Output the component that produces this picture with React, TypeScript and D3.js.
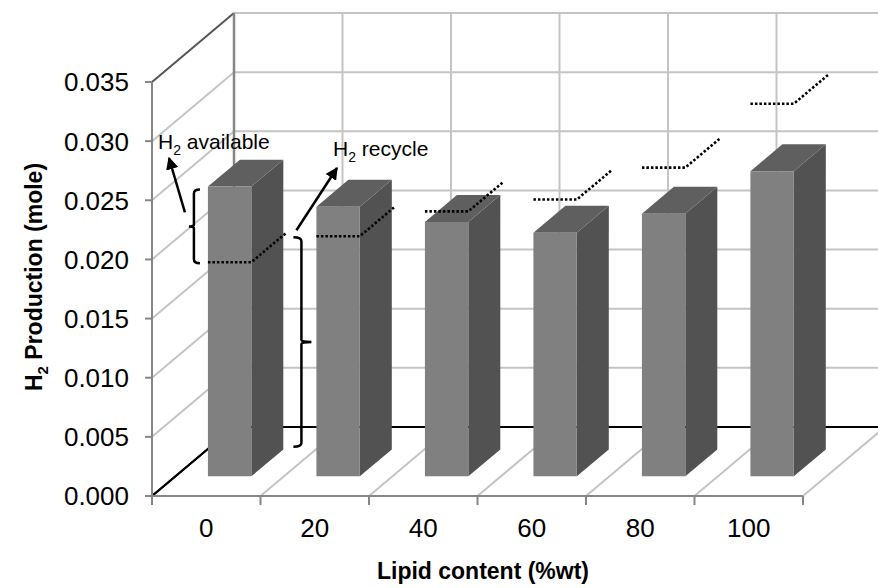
import React from "react";
import * as d3 from "d3";

const categories = ["0", "20", "40", "60", "80", "100"];
const available = [0.0245, 0.0228, 0.0215, 0.0206, 0.0222, 0.0258];
const recycle = [0.0181, 0.0203, 0.0224, 0.0234, 0.0261, 0.0315];
const yTicks = [0, 0.005, 0.01, 0.015, 0.02, 0.025, 0.03, 0.035];
const rightBracketBottom = 0.0025;

const W = 878;
const H = 588;
const DX = 82; // depth offset of back wall
const DY = -69;
const BAR_FRONT = 0.285; // depth fraction of bar front face
const BAR_DEPTH = 0.39;
const BAR_WIDTH = 0.4;
const FONT = "'Liberation Sans', Arial, sans-serif";

export default function App() {
  const x = d3.scaleBand<string>().domain(categories).range([152, 803]).padding(0);
  const y = d3.scaleLinear().domain([0, 0.035]).range([496, 82]);
  const bw = x.bandwidth();
  const P = (px: number, v: number, d: number): [number, number] => [px + DX * d, y(v) + DY * d];
  const pts = (a: [number, number][]) => a.map((p) => p.join(",")).join(" ");
  const boundaries = d3.range(categories.length + 1).map((i) => 152 + i * bw);
  const barLeft = (c: string) => (x(c) as number) + (bw * (1 - BAR_WIDTH)) / 2;

  const grid = "#c4c4c4";
  const axisGray = "#868686";

  return (
    <svg width={W} height={H} style={{ position: "absolute", left: 0, top: 0, background: "#fff" }} fontFamily={FONT}>
      {/* side wall gridlines */}
      {yTicks.map((t, i) => {
        const a = P(152, t, 0);
        const b = P(152, t, 1);
        const col = i === 0 ? "#000" : i === yTicks.length - 1 ? "#555" : grid;
        return <line key={"sw" + i} x1={a[0]} y1={a[1]} x2={b[0]} y2={b[1]} stroke={col} strokeWidth={2} />;
      })}
      {/* back wall horizontal gridlines */}
      {yTicks.map((t, i) => {
        const a = P(152, t, 1);
        const b = P(803, t, 1);
        return (
          <line key={"bw" + i} x1={a[0]} y1={a[1]} x2={b[0]} y2={b[1]} stroke={i === 0 ? "#000" : grid} strokeWidth={2} />
        );
      })}
      {/* back wall verticals */}
      {boundaries.map((bx, i) => {
        const a = P(bx, 0, 1);
        const b = P(bx, 0.035, 1);
        return (
          <line key={"bv" + i} x1={a[0]} y1={a[1]} x2={b[0]} y2={b[1]} stroke={i === 0 ? axisGray : grid} strokeWidth={i === 0 ? 2.5 : 2} />
        );
      })}
      {/* floor diagonals */}
      {boundaries.map((bx, i) => {
        const a = P(bx, 0, 0);
        const b = P(bx, 0, 1);
        return <line key={"fd" + i} x1={a[0]} y1={a[1]} x2={b[0]} y2={b[1]} stroke={i === 0 ? "#000" : grid} strokeWidth={2} />;
      })}
      {/* front vertical axis */}
      <line x1={152} y1={y(0)} x2={152} y2={y(0.035)} stroke={axisGray} strokeWidth={2} />
      {yTicks.map((t, i) => (
        <line key={"yt" + i} x1={145} y1={y(t)} x2={152} y2={y(t)} stroke={axisGray} strokeWidth={2} />
      ))}
      {yTicks.map((t, i) => (
        <text key={"yl" + i} x={129} y={y(t)} dy="0.36em" textAnchor="end" fontSize={26} fill="#000">
          {d3.format(".3f")(t)}
        </text>
      ))}
      {/* front floor edge / x axis */}
      <line x1={152} y1={y(0)} x2={803} y2={y(0)} stroke={axisGray} strokeWidth={2} />
      {boundaries.map((bx, i) => (
        <line key={"xt" + i} x1={bx} y1={y(0)} x2={bx} y2={y(0) + 9} stroke={axisGray} strokeWidth={2} />
      ))}
      {categories.map((c) => (
        <text key={"xl" + c} x={(x(c) as number) + bw / 2} y={537} textAnchor="middle" fontSize={26} fill="#000">
          {c}
        </text>
      ))}

      {/* bars */}
      {categories.map((c, i) => {
        const left = barLeft(c);
        const right = left + bw * BAR_WIDTH;
        const v = available[i];
        const f0 = BAR_FRONT;
        const f1 = BAR_FRONT + BAR_DEPTH;
        const front = [P(left, 0, f0), P(right, 0, f0), P(right, v, f0), P(left, v, f0)] as [number, number][];
        const side = [P(right, 0, f0), P(right, 0, f1), P(right, v, f1), P(right, v, f0)] as [number, number][];
        const top = [P(left, v, f0), P(right, v, f0), P(right, v, f1), P(left, v, f1)] as [number, number][];
        return (
          <g key={"bar" + c}>
            <polygon points={pts(side)} fill="#525252" />
            <polygon points={pts(top)} fill="#5f5f5f" />
            <polygon points={pts(front)} fill="#808080" />
          </g>
        );
      })}

      {/* recycle dotted lines */}
      {categories.map((c, i) => {
        const left = barLeft(c);
        const right = left + bw * BAR_WIDTH;
        const v = recycle[i];
        const a = P(left, v, BAR_FRONT);
        const b = P(right, v, BAR_FRONT);
        const e = P(right, v, BAR_FRONT + BAR_DEPTH * 1.08);
        return (
          <polyline
            key={"rc" + c}
            points={pts([a, b, e])}
            fill="none"
            stroke="#000"
            strokeWidth={2.6}
            strokeDasharray="2.5,2"
          />
        );
      })}

      {/* annotations */}
      {(() => {
        const lbX = P(barLeft(categories[0]), 0, BAR_FRONT)[0] - 14;
        const lbTop = P(0, available[0], BAR_FRONT)[1] + 3;
        const lbBot = P(0, recycle[0], BAR_FRONT)[1] + 1;
        const lbMid = (lbTop + lbBot) / 2;
        const rbX = P(barLeft(categories[1]), 0, BAR_FRONT)[0] - 15;
        const rbTop = P(0, recycle[1], BAR_FRONT)[1] + 1;
        const rbBot = P(0, rightBracketBottom, BAR_FRONT)[1];
        const rbMid = (rbTop + rbBot) / 2;
        const s = { fill: "none", stroke: "#000", strokeWidth: 2.5 };
        return (
          <g>
            <defs>
              <marker id="ah" viewBox="0 0 10 10" refX="9" refY="5" markerWidth="5" markerHeight="5" orient="auto">
                <path d="M0,0 L10,5 L0,10 z" fill="#000" />
              </marker>
            </defs>
            <path
              d={`M${lbX + 6},${lbTop} Q${lbX},${lbTop} ${lbX},${lbTop + 4} L${lbX},${lbMid - 2} Q${lbX},${lbMid} ${lbX - 5},${lbMid} Q${lbX},${lbMid} ${lbX},${lbMid + 2} L${lbX},${lbBot - 4} Q${lbX},${lbBot} ${lbX + 6},${lbBot}`}
              {...s}
            />
            <path
              d={`M${rbX - 8},${rbTop} Q${rbX},${rbTop} ${rbX},${rbTop + 4} L${rbX},${rbMid - 2} Q${rbX},${rbMid} ${rbX + 10},${rbMid} Q${rbX},${rbMid} ${rbX},${rbMid + 2} L${rbX},${rbBot - 4} Q${rbX},${rbBot} ${rbX - 8},${rbBot}`}
              {...s}
            />
            <line x1={lbX - 9} y1={lbMid - 14} x2={169} y2={158} {...s} markerEnd="url(#ah)" />
            <line x1={rbX - 5} y1={rbTop - 7} x2={337} y2={168} {...s} markerEnd="url(#ah)" />
            <text x={158} y={149} fontSize={21} fill="#000">
              H<tspan fontSize={14} dy={6}>2</tspan>
              <tspan dy={-6}> available</tspan>
            </text>
            <text x={333} y={156} fontSize={21} fill="#000">
              H<tspan fontSize={14} dy={6}>2</tspan>
              <tspan dy={-6}> recycle</tspan>
            </text>
          </g>
        );
      })()}

      {/* axis titles */}
      <text x={483} y={579} textAnchor="middle" fontSize={23} fontWeight="bold" fill="#000">
        Lipid content (%wt)
      </text>
      <text transform="translate(42,277) rotate(-90)" textAnchor="middle" fontSize={23} fontWeight="bold" fill="#000">
        H<tspan fontSize={15} dy={6}>2</tspan>
        <tspan dy={-6}> Production (mole)</tspan>
      </text>
    </svg>
  );
}
